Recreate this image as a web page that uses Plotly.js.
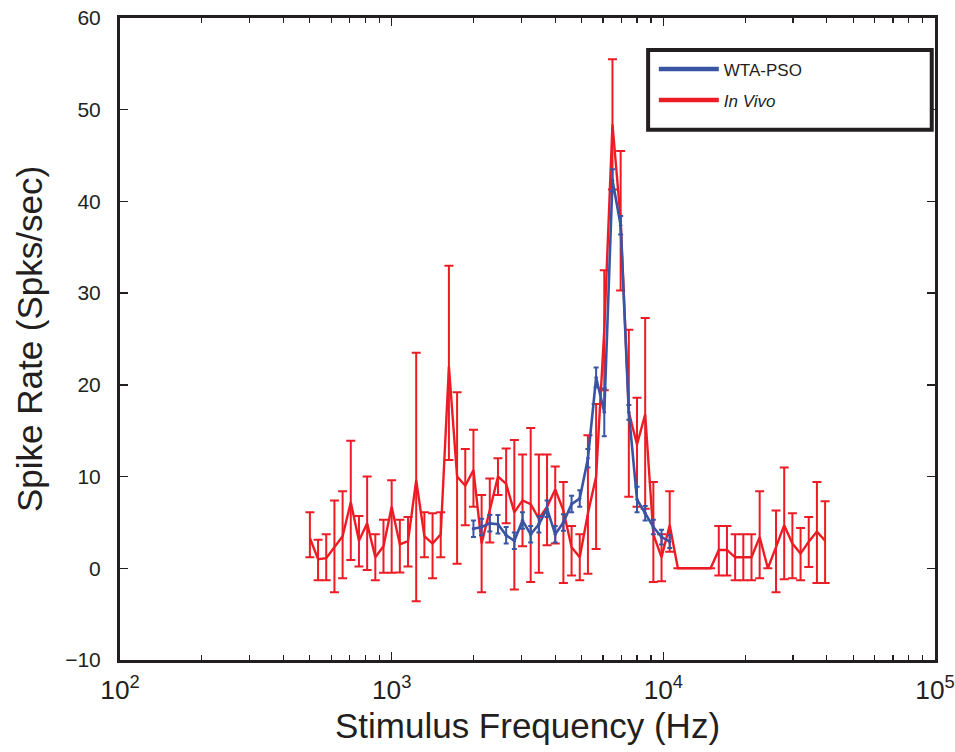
<!DOCTYPE html>
<html>
<head>
<meta charset="utf-8">
<script src="https://cdn.plot.ly/plotly-3.0.1.min.js"></script>
<style>html,body{margin:0;padding:0;background:#fff;}#chart{width:955px;height:752px;}</style>
</head>
<body>
<div id="chart"></div>
<script>
// In Vivo (red) : stimulus frequencies (Hz), 1/10-octave steps
const redFreq = [500,535.9,574.3,615.6,659.8,707.1,757.9,812.3,870.6,933.0,
  1000,1071.8,1148.7,1231.1,1319.5,1414.2,1515.7,1624.5,1741.1,1866.1,
  2000,2143.5,2297.4,2462.3,2639.0,2828.4,3031.4,3249.0,3482.2,3732.1,
  4000,4287.1,4594.8,4924.6,5278.0,5656.9,6062.9,6498.0,6964.4,7464.3,
  8000,8574.2,9189.6,9849.2,10556,11314,12126,12996,13929,14929,
  16000,17148,18379,19698,21112,22627,24251,25992,27858,29857,
  32000,34297,36758,39397];
const redRate = [3.3,1.0,1.1,2.3,3.5,7.2,3.0,4.9,1.2,2.4,
  6.7,2.6,2.95,9.6,3.5,2.7,3.7,22.0,10.0,9.0,
  10.7,2.7,6.3,10.0,9.2,6.1,7.4,7.0,5.4,6.7,
  8.6,6.3,2.3,1.2,6.0,10.0,26.0,48.4,38.0,17.0,
  13.5,16.8,3.7,1.2,4.7,0,0,0,0,0,
  2.0,2.0,1.2,1.2,1.2,3.4,0,2.3,4.7,2.7,
  1.6,2.9,4.0,3.0];
const redUpper = [6.1,3.1,3.7,7.4,8.4,13.9,5.7,10.0,3.7,5.3,
  9.6,5.3,5.6,23.5,6.1,6.0,6.1,33.0,19.2,13.0,
  15.1,8.0,9.8,12.0,13.05,14.0,12.4,15.3,12.4,12.4,
  11.1,9.4,4.6,3.7,14.5,17.9,32.5,55.5,45.5,26.0,
  18.6,27.3,9.4,3.7,8.4,0,0,0,0,0,
  4.6,4.6,3.7,3.7,3.7,8.4,0,6.3,11.0,6.0,
  4.4,5.6,9.4,7.3];
const redLower = [1.2,-1.3,-1.3,-2.6,-1.1,0.9,0.2,-0.2,-1.3,-0.5,
  -0.5,-0.45,0.2,-3.6,1.2,-1.1,1.2,11.8,0.5,4.7,
  6.7,-2.6,2.8,8.0,4.9,-2.3,2.4,-1.5,-0.5,2.5,
  2.7,-1.6,-0.8,-1.3,-0.6,2.1,19.4,41.3,30.3,7.8,
  6.7,6.5,-1.5,-1.4,1.8,0,0,0,0,0,
  -0.8,-0.8,-1.3,-1.3,-1.3,-1.1,0,-2.6,-1.2,-1.1,
  -1.3,0.15,-1.6,-1.6];

// WTA-PSO (blue)
const blueFreq = [2000,2143.5,2297.4,2462.3,2639.0,2828.4,3031.4,3249.0,3482.2,3732.1,
  4000,4287.1,4594.8,4924.6,5278.0,5656.9,6062.9,6498.0,6964.4,7464.3,
  8000,8574.2,9189.6,9849.2,10556];
const blueRate = [4.3,4.5,4.9,4.8,3.6,3.0,5.2,3.7,4.8,6.5,
  3.7,5.0,7.0,7.6,12.0,20.8,17.0,42.3,37.4,17.0,
  7.5,6.0,4.5,3.4,2.9];
const blueErr = [0.9,0.9,0.9,1.0,0.9,0.9,0.9,0.9,0.9,0.9,
  0.9,0.9,0.9,0.9,1.0,1.1,2.6,1.2,1.0,0.8,
  1.4,0.8,0.8,0.8,0.7];

const seriesNames = ['WTA-PSO', '<i>In Vivo</i>'];
const xTitle = 'Stimulus Frequency (Hz)';
const yTitle = 'Spike Rate (Spks/sec)';

const RED = '#ED1C24', BLUE = '#3A54A4', INK = '#231f20';
const FONT = 'Liberation Sans, Arial, Helvetica, sans-serif';

const red = {
  x: redFreq, y: redRate, type: 'scatter', mode: 'lines', name: seriesNames[1],
  showlegend: false,
  line: {color: RED, width: 2.4},
  error_y: {type: 'data', symmetric: false,
    array: redUpper.map((u, i) => u - redRate[i]),
    arrayminus: redRate.map((m, i) => m - redLower[i]),
    color: RED, thickness: 2, width: 4.5}
};
const blue = {
  x: blueFreq, y: blueRate, type: 'scatter', mode: 'lines+markers', name: seriesNames[0],
  showlegend: false,
  line: {color: BLUE, width: 2.6}, marker: {color: BLUE, size: 3.5},
  error_y: {type: 'data', array: blueErr, color: BLUE, thickness: 2, width: 2.5}
};
// legend entries (same series, thicker sample lines as in the figure legend)
const legBlue = {x: [null], y: [null], type: 'scatter', mode: 'lines', name: seriesNames[0],
  legendgroup: 'b', line: {color: BLUE, width: 4.5}};
const legRed = {x: [null], y: [null], type: 'scatter', mode: 'lines', name: seriesNames[1],
  legendgroup: 'r', line: {color: RED, width: 4.5}};

const axisCommon = {
  showline: true, linewidth: 3, linecolor: INK, mirror: 'ticks',
  ticks: 'inside', ticklen: 8, tickwidth: 1.5, tickcolor: INK,
  showgrid: false, zeroline: false,
  tickfont: {family: FONT, size: 21, color: INK}
};

const layout = {
  width: 955, height: 752,
  margin: {l: 120, r: 20, t: 18, b: 92},
  paper_bgcolor: '#fff', plot_bgcolor: '#fff',
  font: {family: FONT, color: INK},
  xaxis: Object.assign({}, axisCommon, {
    type: 'log', range: [2, 5], dtick: 1, exponentformat: 'power', showexponent: 'all',
    minor: {ticks: 'inside', ticklen: 5, tickwidth: 1.2, tickcolor: INK, dtick: 'D1'},
    ticklabelstandoff: 6,
    title: {text: xTitle, font: {family: FONT, size: 35, color: INK}, standoff: 10}
  }),
  yaxis: Object.assign({}, axisCommon, {
    range: [-10, 60], dtick: 10, ticklabelstandoff: 12,
    title: {text: yTitle, font: {family: FONT, size: 35, color: INK}, standoff: 12}
  }),
  showlegend: true,
  legend: {x: 0.655, y: 0.948, xanchor: 'left', yanchor: 'top', bgcolor: 'rgba(0,0,0,0)',
    borderwidth: 0, traceorder: 'grouped', tracegroupgap: 6, itemwidth: 60,
    font: {family: FONT, size: 17, color: INK}},
  shapes: [{type: 'rect', xref: 'paper', yref: 'paper', x0: 0.648, x1: 0.996, y0: 0.826, y1: 0.950,
    line: {color: INK, width: 4}, fillcolor: '#fff', layer: 'above'}]
};

Plotly.newPlot('chart', [legBlue, legRed, red, blue], layout, {staticPlot: true, displayModeBar: false});
</script>
</body>
</html>
